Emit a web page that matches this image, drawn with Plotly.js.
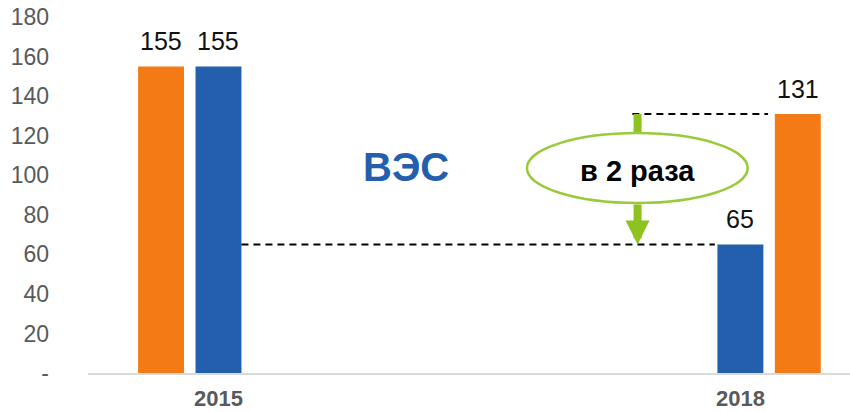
<!DOCTYPE html>
<html>
<head>
<meta charset="utf-8">
<script src="https://cdn.plot.ly/plotly-3.0.1.min.js"></script>
<style>
  html, body { margin: 0; padding: 0; background: #fff; }
  #chart { width: 850px; height: 412px; }
</style>
</head>
<body>
<div id="chart"></div>
<script>
// ===== Data =====
const years = ["2015", "2018"];
const orangeVals = [155, 131];
const blueVals = [155, 65];
const yTickVals = [0, 20, 40, 60, 80, 100, 120, 140, 160, 180];
const yTickText = ["-", "20", "40", "60", "80", "100", "120", "140", "160", "180"];

// --- Styles ---
const ORANGE = "#F37A14";
const BLUE = "#235FAC";
const GREEN = "#8DC21F";
const GREEN_LIGHT = "#9ACA3C";
const GREY = "#595959";
const FONT = "Liberation Sans, Arial, sans-serif";

const barW = 0.088;
const blueOffset = [-barW / 2, -barW / 2];
const orangeOffset = [-0.154, 0.066]; // 2015 left of blue, 2018 right of blue

const traces = [
  {
    type: "bar",
    x: years,
    y: orangeVals,
    width: [barW, barW],
    offset: orangeOffset,
    marker: { color: ORANGE },
    hoverinfo: "skip",
  },
  {
    type: "bar",
    x: years,
    y: blueVals,
    width: [barW, barW],
    offset: blueOffset,
    marker: { color: BLUE },
    hoverinfo: "skip",
  },
];

// --- Value labels ---
const annotations = [];
const labelFont = { family: FONT, size: 25, color: "#111" };
years.forEach((_, i) => {
  annotations.push({
    x: i + orangeOffset[i] + barW / 2, y: orangeVals[i], xref: "x", yref: "y",
    text: String(orangeVals[i]), showarrow: false, yanchor: "bottom", yshift: 9,
    font: labelFont,
  });
  annotations.push({
    x: i + blueOffset[i] + barW / 2, y: blueVals[i], xref: "x", yref: "y",
    text: String(blueVals[i]), showarrow: false, yanchor: "bottom", yshift: 9,
    font: labelFont,
  });
});

// --- Comparison arrow and captions ---
const arrowX = 0.803;
const ellipse = { x0: 0.591, x1: 1.014, y0: 86, y1: 121.3 };

annotations.push({
  x: arrowX, y: blueVals[1], xref: "x", yref: "y",
  ax: arrowX, ay: ellipse.y0, axref: "x", ayref: "y",
  text: "", showarrow: true, arrowhead: 2, arrowsize: 0.6, arrowwidth: 8,
  arrowcolor: GREEN, standoff: 0,
});
annotations.push({
  x: arrowX, y: 102, xref: "x", yref: "y",
  text: "в 2 раза", showarrow: false,
  font: { family: FONT, size: 29, color: "#000", weight: "bold" },
});
annotations.push({
  x: 0.359, y: 104, xref: "x", yref: "y",
  text: "ВЭС", showarrow: false,
  font: { family: FONT, size: 40, color: BLUE, weight: "bold" },
});

const shapes = [
  // lower dashed line: 2018 blue level
  {
    type: "line", xref: "x", yref: "y",
    x0: barW / 2, x1: 1 - barW / 2 - 0.005, y0: blueVals[1], y1: blueVals[1],
    line: { color: "#000", width: 2, dash: "7px,5px" }, layer: "above",
  },
  // upper dashed line: 2018 orange level
  {
    type: "line", xref: "x", yref: "y",
    x0: arrowX - 0.01, x1: 1 + orangeOffset[1] - 0.013, y0: orangeVals[1], y1: orangeVals[1],
    line: { color: "#000", width: 2, dash: "7px,5px" }, layer: "above",
  },
  // arrow shaft (top part, hidden under ellipse)
  {
    type: "line", xref: "x", yref: "y",
    x0: arrowX, x1: arrowX, y0: orangeVals[1], y1: ellipse.y0,
    line: { color: GREEN, width: 8 }, layer: "above",
  },
  // ellipse
  {
    type: "circle", xref: "x", yref: "y",
    x0: ellipse.x0, x1: ellipse.x1, y0: ellipse.y0, y1: ellipse.y1,
    fillcolor: "#fff", line: { color: GREEN_LIGHT, width: 2.5 }, layer: "above",
  },
];

const layout = {
  width: 850,
  height: 412,
  margin: { l: 88, r: 0, t: 17, b: 39 },
  paper_bgcolor: "#fff",
  plot_bgcolor: "#fff",
  showlegend: false,
  barmode: "overlay",
  font: { family: FONT },
  xaxis: {
    type: "category",
    range: [-0.25, 1.21],
    showline: true,
    linecolor: "#D9D9D9",
    linewidth: 2,
    ticks: "",
    ticklabelstandoff: 5,
    showgrid: false,
    zeroline: false,
    tickfont: { family: FONT, size: 22, color: GREY, weight: "bold" },
    fixedrange: true,
  },
  yaxis: {
    range: [0, 180],
    tickvals: yTickVals,
    ticktext: yTickText,
    showgrid: false,
    zeroline: false,
    showline: false,
    ticks: "",
    ticklabelstandoff: 38,
    tickfont: { family: FONT, size: 23, color: GREY },
    fixedrange: true,
  },
  shapes: shapes,
  annotations: annotations,
};

Plotly.newPlot("chart", traces, layout, { displayModeBar: false, staticPlot: true });
</script>
</body>
</html>
